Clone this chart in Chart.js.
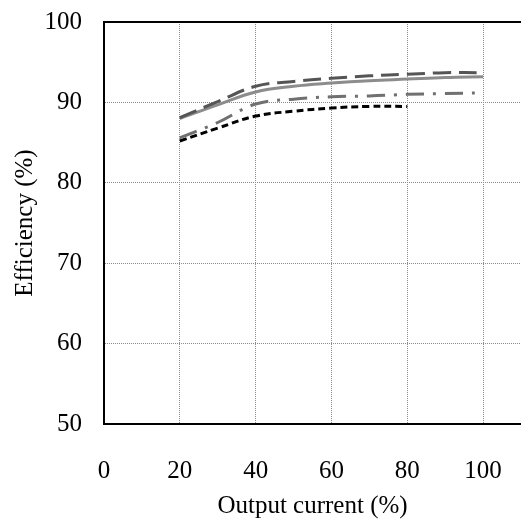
<!DOCTYPE html>
<html>
<head>
<meta charset="utf-8">
<script src="https://cdn.jsdelivr.net/npm/chart.js@4/dist/chart.umd.min.js"></script>
<style>
  html, body { margin: 0; padding: 0; background: #fff; }
  #wrap { width: 521px; height: 519px; }
</style>
</head>
<body>
<div id="wrap"><canvas id="effChart"></canvas></div>
<script>
const outputCurrent = [20, 30, 40, 50, 60, 70, 80, 90, 100];
const effLongDash = [88.1, 90.1, 92.0, 92.6, 93.0, 93.3, 93.5, 93.7, 93.7];
const effSolid = [88.0, 89.7, 91.3, 92.0, 92.4, 92.7, 92.9, 93.1, 93.2];
const effDashDot = [85.6, 87.5, 89.8, 90.4, 90.7, 90.8, 91.0, 91.1, 91.2];
const effShortDash = [85.2, 86.8, 88.3, 88.9, 89.3, 89.5, 89.5];
const xTicks = [0, 20, 40, 60, 80, 100];
const yTicks = [50, 60, 70, 80, 90, 100];

Chart.defaults.font.family = '"Liberation Serif", "Times New Roman", serif';
Chart.defaults.color = '#000';

const toPoints = (ys) => ys.map((y, i) => ({x: outputCurrent[i], y: y}));

const lineStyle = (color, dash) => ({
    borderColor: color,
    borderWidth: 3,
    borderDash: dash,
    pointRadius: 0,
    tension: 0.4,
    fill: false
});

const effData = {
    datasets: [
        Object.assign({label: 'A', data: toPoints(effLongDash)}, lineStyle('#555555', [18, 8])),
        Object.assign({label: 'B', data: toPoints(effSolid)}, lineStyle('#8c8c8c', [])),
        Object.assign({label: 'C', data: toPoints(effDashDot)}, lineStyle('#707070', [18, 9, 3, 9])),
        Object.assign({label: 'D', data: toPoints(effShortDash)}, lineStyle('#000000', [7, 4]))
    ]
};

const gridStyle = {
    color: '#8a8a8a',
    lineWidth: 1,
    drawTicks: false
};

const effOptions = {
    responsive: true,
    maintainAspectRatio: false,
    animation: false,
    layout: { padding: { top: 22, right: 0, left: 0, bottom: 0 } },
    plugins: { legend: { display: false }, tooltip: { enabled: false } },
    scales: {
        x: {
            type: 'linear',
            position: 'bottom',
            min: 0,
            max: 110,
            afterBuildTicks: (scale) => { scale.ticks = xTicks.map(v => ({value: v})); },
            afterFit: (scale) => { scale.height = 95; scale.paddingRight = 0; scale.paddingLeft = 0; },
            ticks: { font: { size: 25 }, padding: 32, maxRotation: 0 },
            grid: gridStyle,
            border: { display: true, color: '#000', width: 2, dash: [1, 1] },
            title: { display: true, text: 'Output current (%)', font: { size: 25, lineHeight: 1 }, padding: { top: 0, bottom: 0 } }
        },
        xTop: {
            type: 'linear',
            position: 'top',
            min: 0,
            max: 110,
            afterFit: (scale) => { scale.height = 0; scale.paddingRight = 0; scale.paddingLeft = 0; },
            ticks: { display: false },
            grid: { display: false, drawTicks: false },
            border: { display: true, color: '#000', width: 2 }
        },
        y: {
            type: 'linear',
            position: 'left',
            min: 50,
            max: 100,
            afterBuildTicks: (scale) => { scale.ticks = yTicks.map(v => ({value: v})); },
            afterFit: (scale) => { scale.width = 104; scale.paddingTop = 0; scale.paddingBottom = 0; },
            ticks: { font: { size: 25 }, padding: 22 },
            grid: gridStyle,
            border: { display: true, color: '#000', width: 2, dash: [1, 1] },
            title: { display: true, text: 'Efficiency (%)', font: { size: 25 }, padding: { top: 10, bottom: 0 } }
        }
    }
};

const effChart = new Chart(document.getElementById('effChart'), {type: 'line', data: effData, options: effOptions});
</script>
</body>
</html>
